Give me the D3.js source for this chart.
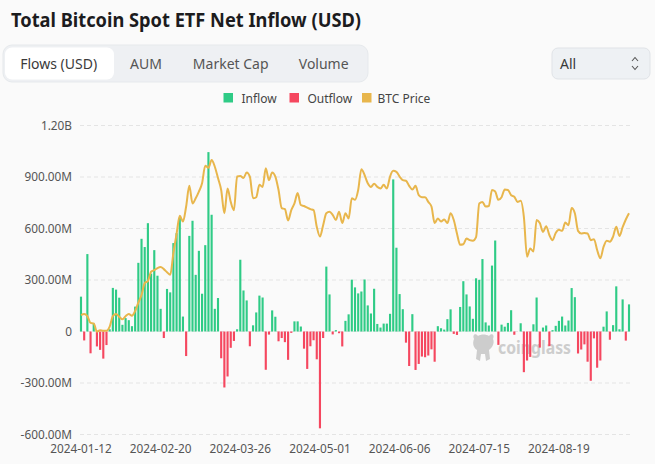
<!DOCTYPE html>
<html><head><meta charset="utf-8">
<script src="https://cdn.jsdelivr.net/npm/d3@7"></script>
<style>
html,body{margin:0;padding:0;background:#fafafa;}
svg{display:block;font-family:"Noto Sans",sans-serif;}
</style></head><body>
<svg id="c" width="655" height="464"></svg>
<script>
// ---------- data ----------
const dates = [
"2024-01-12","2024-01-16","2024-01-17","2024-01-18","2024-01-19","2024-01-22","2024-01-23","2024-01-24","2024-01-25","2024-01-26",
"2024-01-29","2024-01-30","2024-01-31","2024-02-01","2024-02-02","2024-02-05","2024-02-06","2024-02-07","2024-02-08","2024-02-09",
"2024-02-12","2024-02-13","2024-02-14","2024-02-15","2024-02-16","2024-02-20","2024-02-21","2024-02-22","2024-02-23","2024-02-26",
"2024-02-27","2024-02-28","2024-02-29","2024-03-01","2024-03-04","2024-03-05","2024-03-06","2024-03-07","2024-03-08","2024-03-11",
"2024-03-12","2024-03-13","2024-03-14","2024-03-15","2024-03-18","2024-03-19","2024-03-20","2024-03-21","2024-03-22","2024-03-25",
"2024-03-26","2024-03-27","2024-03-28","2024-04-01","2024-04-02","2024-04-03","2024-04-04","2024-04-05","2024-04-08","2024-04-09",
"2024-04-10","2024-04-11","2024-04-12","2024-04-15","2024-04-16","2024-04-17","2024-04-18","2024-04-19","2024-04-22","2024-04-23",
"2024-04-24","2024-04-25","2024-04-26","2024-04-29","2024-04-30","2024-05-01","2024-05-02","2024-05-03","2024-05-06","2024-05-07",
"2024-05-08","2024-05-09","2024-05-10","2024-05-13","2024-05-14","2024-05-15","2024-05-16","2024-05-17","2024-05-20","2024-05-21",
"2024-05-22","2024-05-23","2024-05-24","2024-05-28","2024-05-29","2024-05-30","2024-05-31","2024-06-03","2024-06-04","2024-06-05",
"2024-06-06","2024-06-07","2024-06-10","2024-06-11","2024-06-12","2024-06-13","2024-06-14","2024-06-17","2024-06-18","2024-06-20",
"2024-06-21","2024-06-24","2024-06-25","2024-06-26","2024-06-27","2024-06-28","2024-07-01","2024-07-02","2024-07-03","2024-07-05",
"2024-07-08","2024-07-09","2024-07-10","2024-07-11","2024-07-12","2024-07-15","2024-07-16","2024-07-17","2024-07-18","2024-07-19",
"2024-07-22","2024-07-23","2024-07-24","2024-07-25","2024-07-26","2024-07-29","2024-07-30","2024-07-31","2024-08-01","2024-08-02",
"2024-08-05","2024-08-06","2024-08-07","2024-08-08","2024-08-09","2024-08-12","2024-08-13","2024-08-14","2024-08-15","2024-08-16",
"2024-08-19","2024-08-20","2024-08-21","2024-08-22","2024-08-23","2024-08-26","2024-08-27","2024-08-28","2024-08-29","2024-08-30",
"2024-09-03","2024-09-04","2024-09-05","2024-09-06","2024-09-09","2024-09-10","2024-09-11","2024-09-12","2024-09-13","2024-09-16",
"2024-09-17","2024-09-18","2024-09-19"];

// net flow, million USD
const netFlows = [
203,-52,451,-127,47,-87,-107,-158,-79,13,
254,244,197,39,78,66,31,145,400,540,
492,631,337,474,325,132,-38,248,228,515,
573,662,87,-143,557,645,330,470,220,503,
1045,680,132,195,-156,-326,-262,-95,-55,13,
418,239,181,-86,36,111,209,198,-223,-18,
123,86,-57,-38,-62,-165,-8,59,59,29,
-100,-218,-86,-51,-162,-564,-38,378,216,-17,
8,-10,-87,62,100,302,257,222,233,303,
152,105,249,44,23,46,46,103,886,488,
218,130,-65,-201,101,-224,-189,-146,-150,-140,
-104,-176,31,19,11,72,129,-14,-20,143,
293,216,146,74,310,301,422,53,35,384,
530,-78,40,28,50,124,-19,0,48,-237,
-169,-148,42,198,-94,23,35,-85,8,33,
62,87,35,64,253,200,-128,-105,-75,-176,
-287,-40,-211,-169,28,117,-48,37,263,13,
187,-53,158];

// BTC price, thousand USD
const btcPrice = [
43.1,43.3,42.9,41.6,41.5,39.9,40.2,40.1,40.1,40.9,
42.9,43.3,42.8,42.3,42.9,43.3,43.0,43.9,45.5,47.0,
49.3,49.7,51.5,51.8,52.2,52.4,52.0,51.4,50.9,55.1,
58.8,62.3,61.2,64.1,68.1,64.7,65.7,67.0,68.6,72.0,
71.6,73.1,71.8,69.6,67.3,62.8,67.6,65.0,63.4,69.9,
70.0,69.6,70.7,69.9,65.7,65.9,68.3,67.9,71.5,69.2,
70.7,69.9,67.3,63.8,63.6,61.4,63.4,64.7,66.7,64.4,
64.2,63.9,63.6,63.4,60.2,58.3,60.5,62.8,63.1,62.5,
61.5,63.1,60.9,62.8,61.8,65.7,65.4,67.3,71.3,70.2,
68.6,67.9,68.5,67.9,67.6,68.3,67.6,69.9,71.0,70.8,
69.9,69.2,69.1,68.1,67.4,68.1,66.3,65.9,65.9,65.0,
64.1,60.9,61.8,61.2,61.6,60.9,62.8,61.5,58.9,56.7,
56.8,57.9,57.6,57.5,58.2,64.7,65.0,64.1,64.2,67.3,
67.0,65.4,65.9,67.4,67.3,66.3,66.0,65.0,65.2,62.1,
54.4,56.0,55.4,61.5,60.9,59.2,60.3,58.6,57.6,59.0,
59.6,59.4,61.0,60.5,63.8,62.8,59.4,58.9,59.0,58.9,
57.6,57.8,55.7,54.1,56.3,57.5,57.3,58.3,60.2,58.4,
60.1,61.6,62.8];

const yTickValues = [-600,-300,0,300,600,900,1200];
const yTickLabels = ["-600.00M","-300.00M","0","300.00M","600.00M","900.00M","1.20B"];
const xTickDates = ["2024-01-12","2024-02-20","2024-03-26","2024-05-01","2024-06-06","2024-07-15","2024-08-19"];
const tabNames = ["Flows (USD)","AUM","Market Cap","Volume"];
const legendNames = ["Inflow","Outflow","BTC Price"];
const titleText = "Total Bitcoin Spot ETF Net Inflow (USD)";
const rangeOption = "All";
const watermark = "coinglass";

// ---------- styles ----------
const GREEN = "#2fcb86", RED = "#f5475f", GOLD = "#e8b64c";
const legendColors = [GREEN, RED, GOLD];

const svg = d3.select("#c");
svg.append("rect").attr("width",655).attr("height",464).attr("fill","#fafafa");

// title
svg.append("text").attr("x",11).attr("y",27).text(titleText)
  .attr("font-size",19).attr("font-weight",700).attr("fill","#1c1c1e")
  .attr("textLength",350).attr("lengthAdjust","spacingAndGlyphs");

// tabs
svg.append("rect").attr("x",3).attr("y",45).attr("width",365).attr("height",37).attr("rx",9)
  .attr("fill","#eef0f3").attr("stroke","#e6e9ec");
svg.append("rect").attr("x",5).attr("y",47.5).attr("width",109).attr("height",32).attr("rx",7)
  .attr("fill","#ffffff");
const tabCenters = [58.7,146,230.7,323.7];
svg.selectAll(".tab").data(tabNames).join("text").attr("class","tab")
  .attr("x",(d,i)=>tabCenters[i]).attr("y",63.5).attr("text-anchor","middle")
  .attr("dominant-baseline","central").attr("font-size",14)
  .attr("fill",(d,i)=> i===0 ? "#3a3a3a" : "#555").text(d=>d);

// dropdown
svg.append("rect").attr("x",552).attr("y",48).attr("width",98).attr("height",31).attr("rx",6)
  .attr("fill","#eef1f4").attr("stroke","#e0e3e7");
svg.append("text").attr("x",560).attr("y",63.5).attr("dominant-baseline","central")
  .attr("font-size",14).attr("fill","#3a3a3a").text(rangeOption);
svg.append("path").attr("d","M632,61 L635,57.5 L638,61 M632,66 L635,69.5 L638,66")
  .attr("fill","none").attr("stroke","#555").attr("stroke-width",1.1);

// legend
const legX = [223.5, 289.5, 362];
const lg = svg.selectAll(".leg").data(legendNames).join("g").attr("class","leg")
  .attr("transform",(d,i)=>`translate(${legX[i]},0)`);
lg.append("rect").attr("x",0).attr("y",93).attr("width",9.5).attr("height",9.5).attr("fill",(d,i)=>legendColors[i]);
lg.append("text").attr("x",(d,i)=> i===2 ? 15.5 : 18).attr("y",98).attr("dominant-baseline","central")
  .attr("font-size",12).attr("fill","#444").text(d=>d);

// scales
const x = d3.scaleBand().domain(dates).range([79.4,630.6]).paddingInner(0.33).paddingOuter(0.165);
const y = d3.scaleLinear().domain([-600,1200]).range([434.5,125.5]);
const y2 = d3.scaleLinear().domain([39.9,73.1]).range([331.7,160]);

// grid + y labels
const yAxis = d3.axisLeft(y).tickValues(yTickValues).tickSize(0)
  .tickFormat((d,i)=>yTickLabels[i]);
const yg = svg.append("g").attr("transform","translate(72,0)").call(yAxis);
yg.select(".domain").remove();
yg.selectAll("text").attr("font-size",11.8).attr("fill","#555").attr("font-family","Noto Sans, sans-serif").attr("x",0);
svg.append("g").selectAll("line").data(yTickValues).join("line")
  .attr("x1",80).attr("x2",630).attr("y1",d=>y(d)).attr("y2",d=>y(d))
  .attr("stroke","#e4e4e4").attr("stroke-dasharray","4,3");

// x labels
const xAxis = d3.axisBottom(x).tickValues(xTickDates).tickSize(0);
const xg = svg.append("g").attr("transform","translate(0,448)").call(xAxis);
xg.select(".domain").remove();
xg.selectAll("text").attr("font-size",11.8).attr("fill","#555").attr("font-family","Noto Sans, sans-serif")
  .attr("y",0).attr("dy",null).attr("dominant-baseline","central");

// watermark
const wm = svg.append("g").attr("fill","#cdcdcd");
wm.append("path").attr("d","M474,339 C472,334 476,333 478,336 C481,334 486,334 489,336 C491,333 495,334 493,339 C495,343 492,348 489,350 L490,359 L486,361 L485,354 L481,354 L480,361 L476,359 L477,350 C474,348 472,344 474,339 Z");
wm.append("text").attr("x",498).attr("y",354).attr("font-size",18).attr("font-weight",700)
  .attr("textLength",73).attr("lengthAdjust","spacingAndGlyphs").text(watermark);

// bars
const data = dates.map((d,i)=>({date:d, v:netFlows[i], p:btcPrice[i]}));
svg.append("g").selectAll("rect").data(data).join("rect")
  .attr("x",d=>x(d.date)).attr("width",x.bandwidth())
  .attr("y",d=> d.v>=0 ? y(d.v) : y(0))
  .attr("height",d=>Math.abs(y(d.v)-y(0)))
  .attr("fill",d=> d.v>=0 ? GREEN : RED);

// price line
const line = d3.line().x(d=>x(d.date)+x.bandwidth()/2).y(d=>y2(d.p)).curve(d3.curveMonotoneX);
svg.append("path").datum(data).attr("d",line).attr("fill","none")
  .attr("stroke",GOLD).attr("stroke-width",2).attr("stroke-linejoin","round");
</script>
</body></html>
